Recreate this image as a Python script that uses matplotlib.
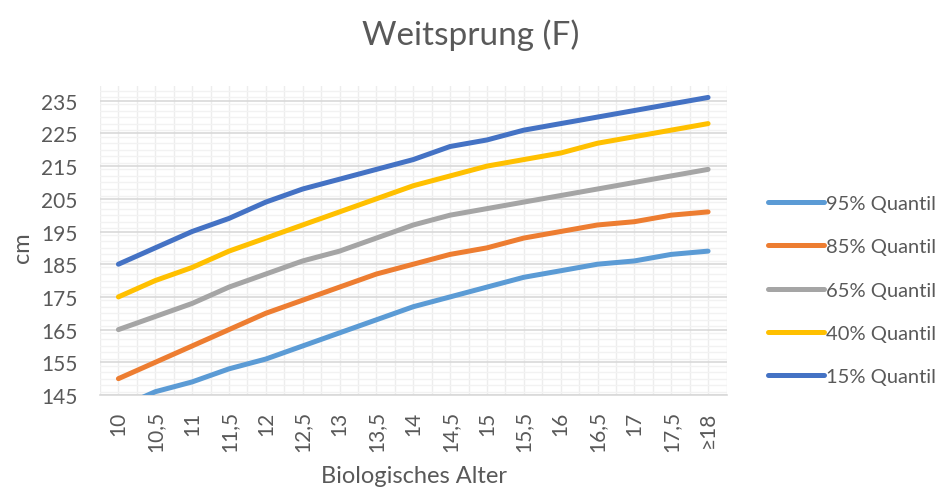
import matplotlib
matplotlib.use("Agg")
import matplotlib.pyplot as plt
from matplotlib.ticker import MultipleLocator

categories = ["10", "10,5", "11", "11,5", "12", "12,5", "13", "13,5", "14",
              "14,5", "15", "15,5", "16", "16,5", "17", "17,5", "≥18"]
q95 = [141, 146, 149, 153, 156, 160, 164, 168, 172, 175, 178, 181, 183, 185, 186, 188, 189]
q85 = [150, 155, 160, 165, 170, 174, 178, 182, 185, 188, 190, 193, 195, 197, 198, 200, 201]
q65 = [165, 169, 173, 178, 182, 186, 189, 193, 197, 200, 202, 204, 206, 208, 210, 212, 214]
q40 = [175, 180, 184, 189, 193, 197, 201, 205, 209, 212, 215, 217, 219, 222, 224, 226, 228]
q15 = [185, 190, 195, 199, 204, 208, 211, 214, 217, 221, 223, 226, 228, 230, 232, 234, 236]
series_names = ["95% Quantil", "85% Quantil", "65% Quantil", "40% Quantil", "15% Quantil"]
yticks = [145, 155, 165, 175, 185, 195, 205, 215, 225, 235]

colors = ["#5B9BD5", "#ED7D31", "#A5A5A5", "#FFC000", "#4472C4"]
plt.rcParams['font.family'] = ['Lato', 'DejaVu Sans']
txt = "#595959"

fig = plt.figure(figsize=(9.49, 4.89), dpi=100)
ax = fig.add_axes([100/949, 1-396/489, 626.5/949, 309/489])

x = list(range(len(categories)))
for name, vals, c in zip(series_names, [q95, q85, q65, q40, q15], colors):
    ax.plot(x, vals, color=c, lw=3.6, solid_capstyle='round', solid_joinstyle='round',
            label=name, zorder=3)

ax.set_xlim(-0.5, len(categories) - 0.5)
ax.set_ylim(145, 239.5)
ax.set_yticks(yticks)
ax.yaxis.set_minor_locator(MultipleLocator(2))
ax.set_xticks(x)
ax.set_xticks([i + 0.5 for i in range(-1, len(categories))], minor=True)
ax.set_xticklabels(categories, rotation=90, fontsize=15, color=txt)
ax.tick_params(axis='y', labelsize=15, labelcolor=txt, length=0, pad=16)
ax.tick_params(axis='x', length=0, pad=11)
ax.tick_params(which='minor', length=0)

ax.grid(which='major', axis='y', color='#d9d9d9', lw=1.2, zorder=1)
ax.grid(which='minor', axis='y', color='#f2f2f2', lw=1.0, zorder=0)
ax.grid(which='both', axis='x', color='#ededed', lw=1.0, zorder=0)

for s in ['top', 'right', 'left']:
    ax.spines[s].set_visible(False)
ax.spines['bottom'].set_color('#d9d9d9')
ax.spines['bottom'].set_linewidth(1.2)

fig.text(414/949, 1-477/489, "Biologisches Alter", ha='center', va='center', fontsize=17, color=txt)
fig.text(22/949, 1-248/489, "cm", ha='center', va='center', rotation=90, fontsize=17, color=txt)
fig.text(471/949, 1-35/489, "Weitsprung (F)", ha='center', va='center', fontsize=24, color=txt)

leg = fig.legend(loc='center left', bbox_to_anchor=(768/949, 1-291/489), frameon=False,
                 fontsize=14.5, handlelength=2.8, handletextpad=0.1, labelspacing=1.3,
                 borderpad=0, borderaxespad=0, labelcolor=txt)
for h in leg.get_lines():
    h.set_linewidth(3.6)

fig.savefig("out.png", dpi=100, facecolor='white')
